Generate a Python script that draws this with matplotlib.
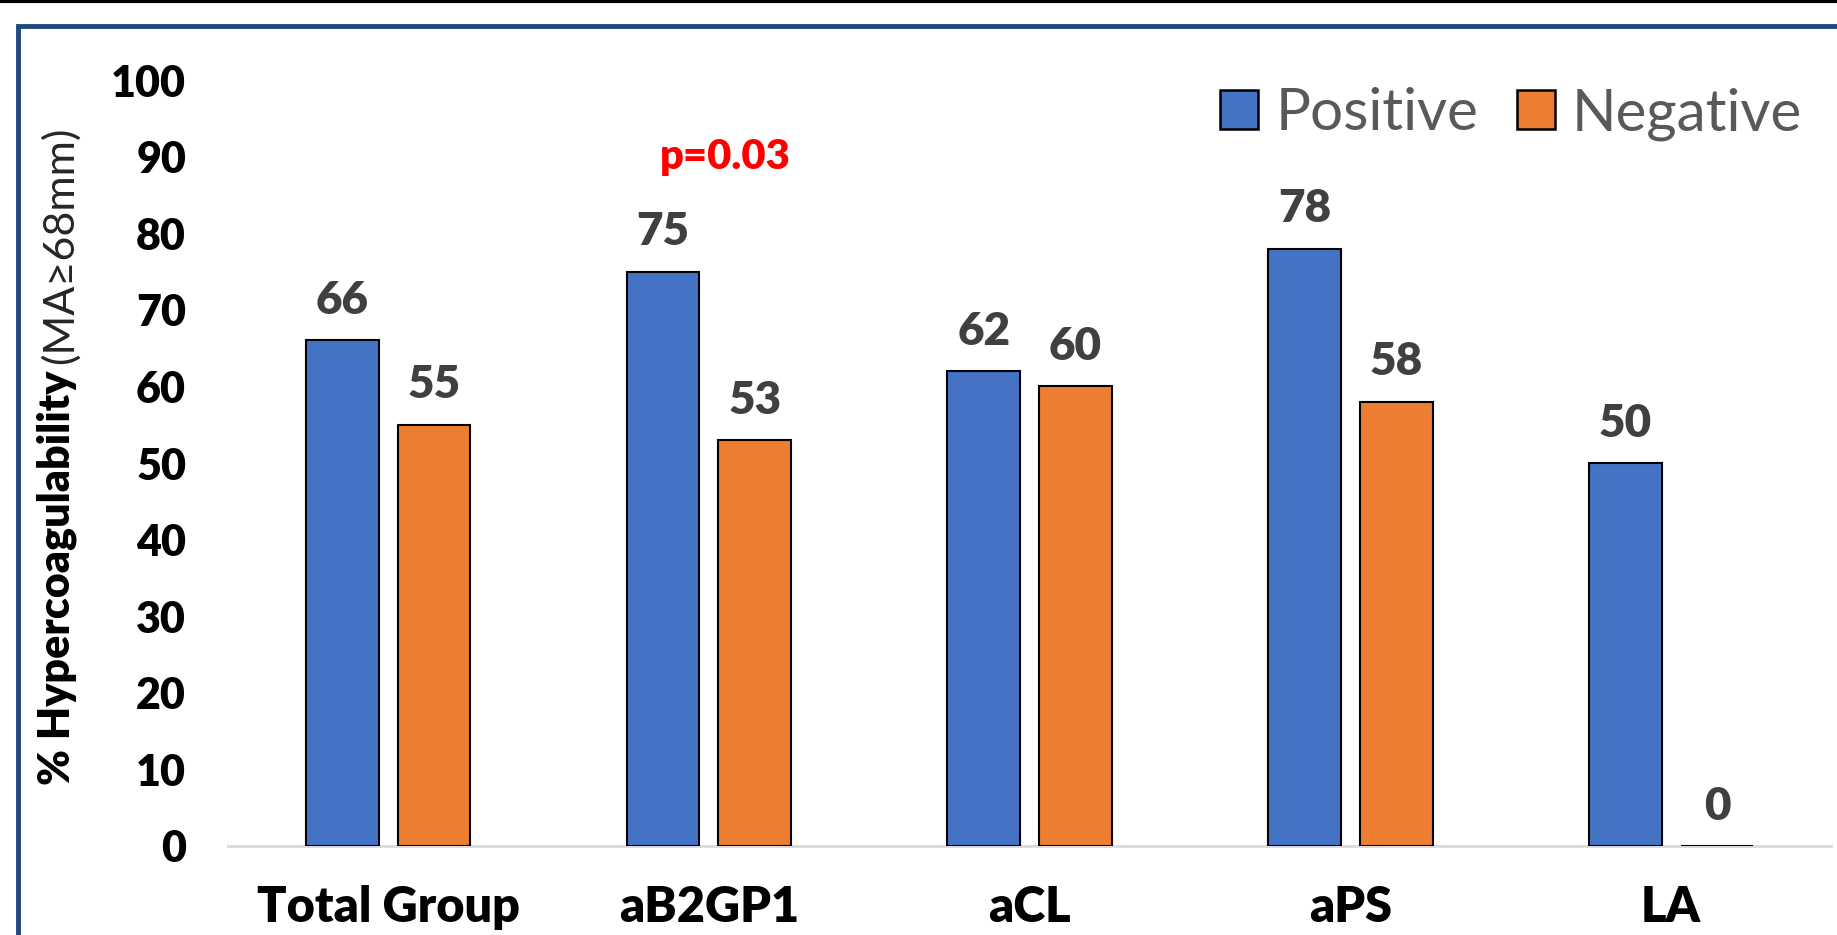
import matplotlib
matplotlib.use("Agg")
import matplotlib.pyplot as plt
import numpy as np
from matplotlib.patches import Rectangle
from matplotlib.lines import Line2D

# data
categories = ["Total Group", "aB2GP1", "aCL", "aPS", "LA"]
positive = [66, 75, 62, 78, 50]
negative = [55, 53, 60, 58, 0]
series_names = ["Positive", "Negative"]
y_ticks = [0, 10, 20, 30, 40, 50, 60, 70, 80, 90, 100]
p_note = "p=0.03"

blue = "#4472C4"
orange = "#ED7D31"

plt.rcParams['font.family'] = ['Lato', 'DejaVu Sans']

fig = plt.figure(figsize=(18.37, 9.35), dpi=100)
ax = fig.add_axes([0.124, 0.0952, 0.873, 0.8192])

x = np.arange(len(categories))
w = 0.227
off = 0.143
b1 = ax.bar(x - off, positive, w, color=blue, edgecolor="black", linewidth=1.5, label=series_names[0])
b2 = ax.bar(x + off, negative, w, color=orange, edgecolor="black", linewidth=1.5, label=series_names[1])

for bars, vals in [(b1, positive), (b2, negative)]:
    for r, v in zip(bars, vals):
        ax.annotate(str(v), (r.get_x() + r.get_width() / 2, v), xytext=(0, 14),
                    textcoords="offset points", ha="center", va="bottom",
                    fontsize=33, fontweight="heavy", color="#404040")

ax.text(1.05, 90, p_note, color="red", fontsize=30, fontweight="heavy", ha="center", va="center")

ax.set_xlim(-0.5, len(categories) - 0.5)
ax.set_ylim(0, 100)
ax.set_yticks(y_ticks)
ax.set_xticks(x)
ax.set_xticklabels(categories)
ax.tick_params(axis="y", length=0, pad=30, labelsize=31)
ax.tick_params(axis="x", length=0, pad=28, labelsize=35)
for lab in ax.get_xticklabels() + ax.get_yticklabels():
    lab.set_fontweight("heavy")
for s in ["top", "right", "left"]:
    ax.spines[s].set_visible(False)
ax.spines["bottom"].set_color("#D9D9D9")
ax.spines["bottom"].set_linewidth(2)
ax.spines["bottom"].set_zorder(0)

leg = ax.legend(loc="center right", bbox_to_anchor=(0.997, 0.878), bbox_transform=fig.transFigure,
                ncol=2, frameon=False, fontsize=42, labelcolor="#595959", borderpad=0,
                handlelength=0.65, handleheight=0.65, handletextpad=0.3, columnspacing=0.65)
for h in leg.legend_handles:
    h.set_edgecolor("black")
    h.set_linewidth(1.8)

# y label: bold part + normal part
t1 = fig.text(0.031, 0.160, "% Hypercoagulability", rotation=90, ha="center", va="bottom",
              fontsize=31, fontweight="heavy")
fig.canvas.draw()
bb = t1.get_window_extent(fig.canvas.get_renderer())
top = fig.transFigure.inverted().transform((0, bb.y1))[1]
fig.text(0.033, top + 0.008, "(MA≥68mm)", rotation=90, ha="center", va="bottom",
         fontsize=31, fontweight="normal", color="#262626")

# outer frame and top rule
fig.add_artist(Rectangle((0.0098, -0.05), 1.2, 1.022, transform=fig.transFigure,
                         fill=False, edgecolor="#1F497D", linewidth=3.5))
fig.add_artist(Line2D([0, 1], [0.999, 0.999], transform=fig.transFigure, color="black", linewidth=3))

fig.savefig("out.png", dpi=100)
